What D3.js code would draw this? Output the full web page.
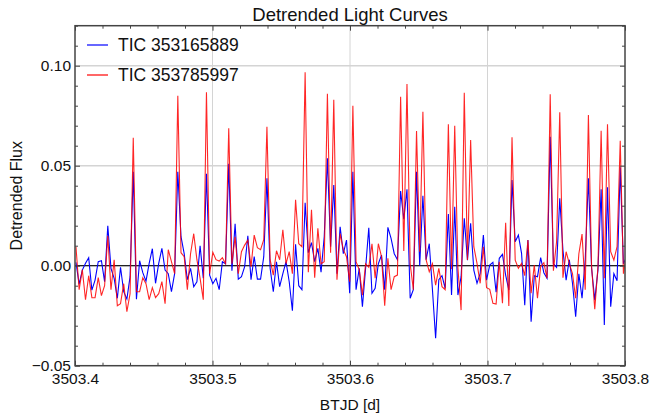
<!DOCTYPE html>
<html><head><meta charset="utf-8">
<script src="https://cdn.jsdelivr.net/npm/d3@7"></script>
<style>
html,body{margin:0;padding:0;background:#fff;}
svg{display:block;font-family:"Liberation Sans",Arial,sans-serif;}
</style></head>
<body><svg id="c" width="651" height="414"></svg>
<script>
// 200-s cadence samples starting at this BTJD
const startTime = 3503.4007;
const cadenceDays = 200 / 86400;

const seriesNames = ["TIC 353165889", "TIC 353785997"];
const seriesColors = ["#0000ff", "#ff0000"];

const fluxBlue = [
 0.0017,-0.0092,-0.0022,0.0012,0.004,-0.0122,-0.0072,0.002,0.0025,-0.008,
 0.02,-0.0013,-0.0063,-0.0163,-0.0008,-0.013,-0.0167,-0.0055,0.047,-0.0168,
 0.0025,-0.0035,-0.0077,0.0012,0.0085,-0.0088,0.0012,0.0087,-0.0022,-0.004,
 -0.013,-0.004,0.047,0.0145,0.006,-0.007,-0.0013,-0.0105,-0.008,0.010,
 -0.0063,0.046,-0.0047,-0.009,-0.0063,-0.012,0.002,0.001,0.051,-0.0025,
 0.021,-0.0067,-0.0055,-0.0005,0.015,-0.007,0.0045,-0.0067,-0.0067,0.0045,
 0.0437,-0.0013,-0.013,0.002,-0.0105,-0.004,0.002,-0.008,-0.0225,0.0107,
 -0.01,-0.012,0.0315,0.0065,0.0115,0.002,0.0087,-0.0033,0.0145,0.0537,
 0.0095,0.0403,-0.004,0.0195,0.006,0.0128,-0.0138,0.047,-0.012,-0.0013,
 -0.0205,-0.0013,0.019,-0.0138,-0.0113,0.001,0.0053,-0.012,0.0192,0.0137,
 0.006,0.003,0.0373,0.0232,0.0382,-0.0163,-0.012,0.047,0.0,0.035,
 0.003,0.011,-0.012,-0.0363,-0.007,-0.005,-0.0113,0.0258,-0.0147,0.0295,
 -0.0147,-0.0055,0.0237,0.0028,0.0212,-0.0022,-0.0088,-0.0038,0.0153,-0.0072,
 0.0003,0.0017,-0.0133,0.0037,0.0057,-0.0047,-0.0122,0.0428,0.012,0.0153,
 0.0062,-0.0197,0.0128,-0.028,-0.005,-0.0055,0.004,-0.0035,-0.0063,0.0645,
 0.001,-0.0008,0.0337,0.0078,-0.0072,0.003,-0.0088,-0.0255,-0.004,-0.0163,
 0.003,0.0437,-0.0013,-0.0172,-0.0022,0.0382,-0.0297,0.0392,-0.0205,-0.004,
 -0.0075,0.0492,0.001,0.0045
];
const fluxRed = [
 0.0095,-0.012,-0.002,-0.017,-0.005,-0.016,-0.016,-0.006,-0.015,-0.010,
 0.015,-0.012,0.003,-0.020,-0.019,-0.009,-0.023,-0.014,0.064,-0.013,
 -0.013,-0.006,-0.009,-0.017,-0.011,-0.016,-0.014,-0.008,-0.019,0.008,
 0.002,-0.004,0.085,0.0065,0.0045,-0.012,0.006,0.016,0.003,-0.0063,
 -0.017,0.0867,-0.004,0.0067,0.003,0.0023,0.004,0.001,0.0687,0.001,
 0.0145,-0.004,0.007,0.0103,0.0128,-0.0005,0.0153,0.009,0.008,0.013,
 0.0695,0.003,-0.0047,0.0075,0.003,0.018,0.001,0.007,-0.004,0.033,
 0.011,0.0095,0.0967,-0.0033,0.028,-0.006,0.0187,0.001,0.002,0.086,
 0.0065,0.083,-0.007,0.016,0.008,0.0045,-0.008,0.08,0.002,-0.002,
 -0.0147,0.001,-0.0008,0.011,-0.0063,0.011,0.0045,-0.02,0.0037,-0.012,
 -0.0055,-0.0047,0.0845,0.0073,0.0908,0.001,-0.012,0.0673,0.007,0.077,
 0.003,-0.003,0.001,-0.0097,-0.0013,-0.0105,-0.012,0.0707,-0.0018,0.07,
 -0.001,-0.0222,0.0865,0.0028,0.0628,0.0095,0.0012,-0.0088,0.0095,-0.011,
 -0.0118,-0.0188,-0.0192,0.002,-0.0188,0.0215,-0.0202,0.0642,0.0028,-0.0013,
 0.0012,-0.005,0.0128,-0.0138,0.0003,-0.0163,-0.0005,0.0015,-0.0063,0.0857,
 -0.0025,0.012,0.0767,-0.006,0.007,0.001,-0.004,-0.0163,0.006,0.0158,
 -0.012,0.0753,-0.0005,-0.0218,-0.0005,0.0675,-0.0063,0.0707,0.007,0.0028,
 0.0095,0.0625,-0.004,0.006
];

const xTicks = [3503.4, 3503.5, 3503.6, 3503.7, 3503.8];
const yTicks = [-0.05, 0.00, 0.05, 0.10];
const xDomain = [3503.4, 3503.8];
const yDomain = [-0.05, 0.12];

const W = 651, H = 414;
const M = {left: 75, right: 26, top: 25.7, bottom: 48.3};
const iw = W - M.left - M.right, ih = H - M.top - M.bottom;

const svg = d3.select("#c");
const x = d3.scaleLinear().domain(xDomain).range([0, iw]);
const y = d3.scaleLinear().domain(yDomain).range([ih, 0]);

const g = svg.append("g").attr("transform", `translate(${M.left},${M.top})`);

svg.append("defs").append("clipPath").attr("id","clip")
  .append("rect").attr("width", iw).attr("height", ih);

// grid
g.append("g").selectAll("line").data(xTicks.slice(1,-1)).join("line")
  .attr("x1", d=>x(d)).attr("x2", d=>x(d)).attr("y1",0).attr("y2",ih)
  .attr("stroke","#d4d4d4").attr("stroke-width",1);
g.append("g").selectAll("line").data(yTicks.filter(v=>v>-0.05)).join("line")
  .attr("y1", d=>y(d)).attr("y2", d=>y(d)).attr("x1",0).attr("x2",iw)
  .attr("stroke","#d4d4d4").attr("stroke-width",1.5);

// zero line
g.append("line").attr("x1",0).attr("x2",iw).attr("y1",y(0)).attr("y2",y(0))
  .attr("stroke","#222").attr("stroke-width",1.3);

const times = fluxBlue.map((_, i) => startTime + i * cadenceDays);
const line = d3.line().x((d,i)=>x(times[i])).y(d=>y(d));
const plot = g.append("g").attr("clip-path","url(#clip)");
plot.append("path").datum(fluxBlue).attr("d", line)
  .attr("fill","none").attr("stroke",seriesColors[0]).attr("stroke-width",1.1);
plot.append("path").datum(fluxRed).attr("d", line)
  .attr("fill","none").attr("stroke",seriesColors[1]).attr("stroke-width",1.1)
  .attr("stroke-opacity",0.85);

// axes
const fmtY = d3.format(".2f");
const xMinor = d3.range(0, 21).map(i => 3503.4 + i*0.02).filter(v => !xTicks.some(t => Math.abs(t-v)<1e-9));
const yMinor = d3.range(0, 18).map(i => -0.05 + i*0.01).filter(v => !yTicks.some(t => Math.abs(t-v)<1e-9));

function styleAxis(sel){
  sel.select(".domain").remove();
  sel.selectAll(".tick line").attr("stroke","#444").attr("stroke-width",1);
  sel.selectAll("text").attr("fill","#111").style("font-size","15.5px");
}
g.append("g").attr("transform",`translate(0,${ih})`)
  .call(d3.axisBottom(x).tickValues(xTicks).tickFormat(d3.format(".1f")).tickSize(-5).tickPadding(7)).call(styleAxis);
g.append("g").attr("transform",`translate(0,${ih})`)
  .call(d3.axisBottom(x).tickValues(xMinor).tickFormat("").tickSize(-3)).call(styleAxis);
g.append("g")
  .call(d3.axisTop(x).tickValues(xTicks).tickFormat("").tickSize(-5)).call(styleAxis);
g.append("g")
  .call(d3.axisTop(x).tickValues(xMinor).tickFormat("").tickSize(-3)).call(styleAxis);
g.append("g")
  .call(d3.axisLeft(y).tickValues(yTicks).tickFormat(fmtY).tickSize(-5).tickPadding(4)).call(styleAxis);
g.append("g")
  .call(d3.axisLeft(y).tickValues(yMinor).tickFormat("").tickSize(-3)).call(styleAxis);
g.append("g").attr("transform",`translate(${iw},0)`)
  .call(d3.axisRight(y).tickValues(yTicks).tickFormat("").tickSize(-5)).call(styleAxis);
g.append("g").attr("transform",`translate(${iw},0)`)
  .call(d3.axisRight(y).tickValues(yMinor).tickFormat("").tickSize(-3)).call(styleAxis);

// frame
g.append("rect").attr("width",iw).attr("height",ih).attr("fill","none")
  .attr("stroke","#444").attr("stroke-width",1.5);

// legend
const leg = g.append("g");
seriesNames.forEach((name, i) => {
  const ly = 19.3 + i*30;
  leg.append("line").attr("x1",12).attr("x2",33).attr("y1",ly).attr("y2",ly)
    .attr("stroke",seriesColors[i]).attr("stroke-width",1.2);
  leg.append("text").attr("x",43).attr("y",ly).attr("dy","0.35em")
    .style("font-size","17.5px").attr("fill","#111").text(name);
});

// titles
svg.append("text").attr("x", M.left + iw/2).attr("y", 21).attr("text-anchor","middle")
  .style("font-size","18.5px").attr("fill","#111").text("Detrended Light Curves");
svg.append("text").attr("x", M.left + iw/2).attr("y", 410).attr("text-anchor","middle")
  .style("font-size","15.5px").attr("fill","#111").text("BTJD [d]");
svg.append("text").attr("transform",`translate(22,${M.top + ih/2}) rotate(-90)`)
  .attr("text-anchor","middle").style("font-size","16px").attr("fill","#111").text("Detrended Flux");
</script></body></html>
